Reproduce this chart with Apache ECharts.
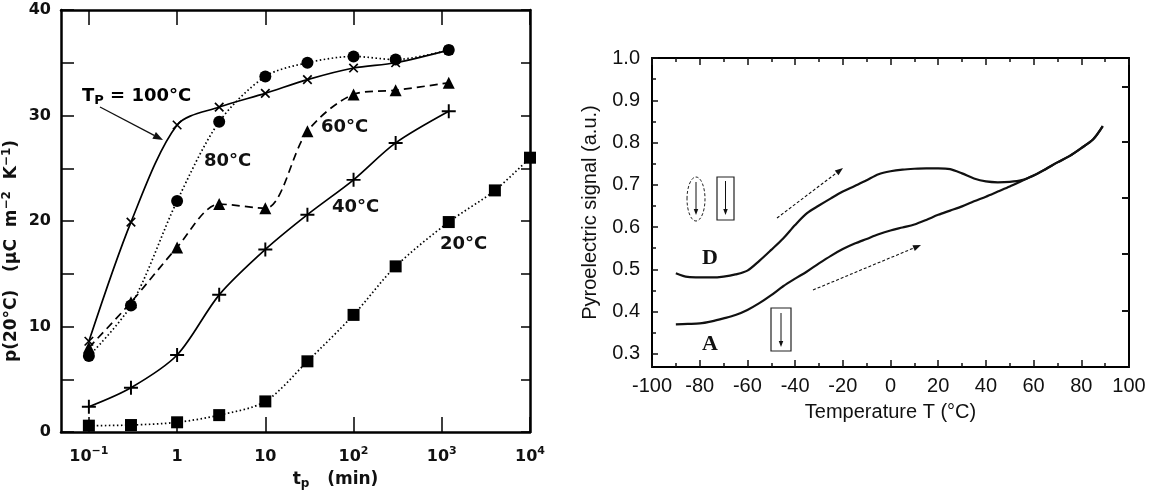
<!DOCTYPE html>
<html>
<head>
<meta charset="utf-8">
<script src="https://cdn.jsdelivr.net/npm/echarts@6.0.0/dist/echarts.min.js"></script>
<style>
html, body { margin: 0; padding: 0; background: #fff; }
#main { width: 1158px; height: 495px; }
</style>
</head>
<body>
<div id="main"></div>
<script>
// left panel: p(20°C) against poling time t_p, one curve per poling temperature
var tpTimes = [0.1, 0.3, 1, 3, 10, 30, 100, 300, 1200];
var p100 = [8.6, 19.9, 29.1, 30.8, 32.1, 33.4, 34.5, 35.0, 36.2];
var p80 = [7.2, 12.0, 21.9, 29.4, 33.7, 35.0, 35.6, 35.3, 36.2];
var p60 = [8.0, 12.3, 17.5, 21.6, 21.2, 28.5, 32.0, 32.4, 33.1];
var p40 = [2.4, 4.2, 7.3, 13.0, 17.3, 20.6, 23.9, 27.4, 30.4];
var tp20Times = [0.1, 0.3, 1, 3, 10, 30, 100, 300, 1200, 4000, 10000];
var p20 = [0.6, 0.66, 0.92, 1.6, 2.9, 6.7, 11.1, 15.7, 19.9, 22.9, 26.0];
var decades = [-1, 0, 1, 2, 3, 4]; // log10(t_p) tick positions

// right panel: pyroelectric signal against temperature
var temps = [-90, -85, -80, -75, -70, -65, -60, -55, -50, -45, -40, -35, -30, -25, -20, -15, -10, -5,
  0, 5, 10, 15, 20, 25, 30, 35, 40, 45, 50, 55, 60, 65, 70, 75, 80, 85, 89];
var sigD = [0.491, 0.482, 0.481, 0.481, 0.483, 0.488, 0.497, 0.520, 0.546, 0.573, 0.605, 0.633, 0.651, 0.668, 0.684, 0.697, 0.711, 0.725,
  0.732, 0.736, 0.738, 0.739, 0.739, 0.737, 0.727, 0.715, 0.708, 0.706, 0.707, 0.711, 0.722, 0.737, 0.753, 0.768, 0.787, 0.808, 0.839];
var sigA = [0.370, 0.371, 0.372, 0.377, 0.384, 0.392, 0.404, 0.420, 0.439, 0.460, 0.478, 0.495, 0.514, 0.532, 0.548, 0.561, 0.572, 0.583,
  0.592, 0.599, 0.606, 0.617, 0.629, 0.639, 0.649, 0.661, 0.672, 0.684, 0.696, 0.709, 0.722, 0.737, 0.753, 0.768, 0.787, 0.808, 0.839];
var yTicksR = [0.3, 0.4, 0.5, 0.6, 0.7, 0.8, 0.9, 1.0];
var yMinorR = [0.35, 0.45, 0.55, 0.65, 0.75, 0.85, 0.95];
var yTicksRightSide = [0.403, 0.536, 0.669, 0.801, 0.933];

var chart = echarts.init(document.getElementById('main'));

var monoFont = 'DejaVu Sans';
var sansFont = 'Liberation Sans';

function logPairs(ts, vs) {
  return ts.map(function (t, i) { return [Math.log10(t), vs[i]]; });
}
function pairs(xs, vs) {
  return xs.map(function (x, i) { return [x, vs[i]]; });
}

var plusPath = 'path://M4.3,0H5.7V10H4.3ZM0,4.3H10V5.7H0Z';

function leftSeries(name, data, symbol, size, lineType, rotate) {
  return {
    name: name,
    type: 'line',
    xAxisIndex: 0,
    yAxisIndex: 0,
    data: data,
    smooth: 0.3,
    symbol: symbol,
    symbolSize: size,
    symbolRotate: rotate || 0,
    showAllSymbol: true,
    lineStyle: { color: '#000', width: 1.7, type: lineType },
    itemStyle: { color: '#000' },
    z: 3
  };
}

function arrow(x1, y1, x2, y2, dash, w, head) {
  var a = Math.atan2(y2 - y1, x2 - x1);
  var bx = x2 - head * Math.cos(a), by = y2 - head * Math.sin(a);
  var nx = -Math.sin(a) * head * 0.38, ny = Math.cos(a) * head * 0.38;
  return [
    { type: 'line', z: 10, shape: { x1: x1, y1: y1, x2: bx, y2: by },
      style: { stroke: '#111', lineWidth: w, lineDash: dash } },
    { type: 'polygon', z: 10, shape: { points: [[x2, y2], [bx + nx, by + ny], [bx - nx, by - ny]] },
      style: { fill: '#111' } }
  ];
}

var leftRich = {
  n: { fontFamily: monoFont, fontWeight: 'bold', fontSize: 18, color: '#111', lineHeight: 22 },
  sub: { fontFamily: monoFont, fontWeight: 'bold', fontSize: 13, color: '#111', verticalAlign: 'bottom', lineHeight: 12 }
};

function tempLabel(x, y, text) {
  return { type: 'text', z: 10, x: x, y: y,
    style: { text: text, font: 'bold 18px "DejaVu Sans"', fill: '#111', verticalAlign: 'middle' } };
}

var graphics = [];
graphics.push({ type: 'text', z: 10, x: 82, y: 96,
  style: { text: '{n|T}{sub|P}{n| = 100°C}', rich: leftRich, verticalAlign: 'middle' } });
graphics = graphics.concat(arrow(100, 107, 163, 140, null, 1.3, 10));
graphics.push(tempLabel(204, 161, '80°C'));
graphics.push(tempLabel(321, 127, '60°C'));
graphics.push(tempLabel(332, 207, '40°C'));
graphics.push(tempLabel(440, 244, '20°C'));

// right panel annotations
graphics.push({ type: 'text', z: 10, x: 710, y: 258,
  style: { text: 'D', font: 'bold 22px "Liberation Serif"', fill: '#111', align: 'center', verticalAlign: 'middle' } });
graphics.push({ type: 'text', z: 10, x: 710, y: 344,
  style: { text: 'A', font: 'bold 22px "Liberation Serif"', fill: '#111', align: 'center', verticalAlign: 'middle' } });
graphics = graphics.concat(arrow(777, 218, 843, 168, [3, 2], 1.1, 8));
graphics = graphics.concat(arrow(813, 290, 921, 245, [3, 2], 1.1, 8));
graphics.push({ type: 'ellipse', z: 10, shape: { cx: 696, cy: 199, rx: 9, ry: 22 },
  style: { fill: 'none', stroke: '#222', lineWidth: 1, lineDash: [3, 2] } });
graphics = graphics.concat(arrow(696, 182, 696, 215, null, 1, 6));
graphics.push({ type: 'rect', z: 10, shape: { x: 717, y: 177, width: 17, height: 43 },
  style: { fill: 'none', stroke: '#222', lineWidth: 1.2 } });
graphics = graphics.concat(arrow(725.5, 181, 725.5, 215, null, 1, 6));
graphics.push({ type: 'rect', z: 10, shape: { x: 771, y: 308, width: 20, height: 43 },
  style: { fill: 'none', stroke: '#222', lineWidth: 1.2 } });
graphics = graphics.concat(arrow(781, 313, 781, 347, null, 1, 6));

var axisTxt = { fontFamily: monoFont, fontWeight: 'bold', fontSize: 16, color: '#111' };
var supRich = {
  b: { fontFamily: monoFont, fontWeight: 'bold', fontSize: 16, color: '#111', lineHeight: 22 },
  s: { fontFamily: monoFont, fontWeight: 'bold', fontSize: 11, color: '#111', verticalAlign: 'top', lineHeight: 12 }
};

function lineL(w) { return { onZero: false, lineStyle: { color: '#000', width: w } }; }

var option = {
  backgroundColor: '#fff',
  animation: false,
  grid: [
    { left: 60, top: 10, width: 470, height: 423 },
    { left: 652, top: 58, width: 477, height: 309 }
  ],
  xAxis: [
    {
      type: 'value', gridIndex: 0, position: 'bottom', min: -1.316, max: 4,
      axisLine: lineL(2.5),
      axisTick: { inside: true, length: 15, customValues: decades, lineStyle: { color: '#000', width: 1.5 } },
      axisLabel: {
        customValues: decades, margin: 14,
        formatter: function (v) {
          if (v === 0) return '{b|1}';
          if (v === 1) return '{b|10}';
          return '{b|10}{s|' + (v < 0 ? '−' + (-v) : v) + '}';
        },
        rich: supRich
      },
      splitLine: { show: false },
      name: '{b|t}{p|p}{b|   (min)}',
      nameLocation: 'middle', nameGap: 38,
      nameTextStyle: {
        padding: [0, 0, 0, 80],
        rich: {
          b: { fontFamily: monoFont, fontWeight: 'bold', fontSize: 17, color: '#111', lineHeight: 20 },
          p: { fontFamily: monoFont, fontWeight: 'bold', fontSize: 12, color: '#111', verticalAlign: 'bottom', lineHeight: 12 }
        }
      }
    },
    {
      type: 'value', gridIndex: 0, position: 'top', min: -1.316, max: 4,
      axisLine: lineL(2.5),
      axisTick: { inside: true, length: 15, customValues: decades, lineStyle: { color: '#000', width: 1.5 } },
      axisLabel: { show: false },
      splitLine: { show: false }
    },
    {
      type: 'value', gridIndex: 1, position: 'bottom', min: -100, max: 100, interval: 20,
      axisLine: lineL(2),
      axisTick: { inside: true, length: 7, lineStyle: { color: '#111', width: 1.5 } },
      minorTick: { show: true, splitNumber: 2, length: 4, lineStyle: { color: '#111', width: 1.5 } },
      axisLabel: { fontFamily: sansFont, fontSize: 20, color: '#111', margin: 9 },
      splitLine: { show: false },
      name: 'Temperature T (°C)', nameLocation: 'middle', nameGap: 35,
      nameTextStyle: { fontFamily: sansFont, fontSize: 20, color: '#111' }
    },
    {
      type: 'value', gridIndex: 1, position: 'top', min: -100, max: 100, interval: 20,
      axisLine: lineL(2),
      axisTick: { inside: true, length: 7, lineStyle: { color: '#111', width: 1.5 } },
      minorTick: { show: true, splitNumber: 2, length: 4, lineStyle: { color: '#111', width: 1.5 } },
      axisLabel: { show: false },
      splitLine: { show: false }
    }
  ],
  yAxis: [
    {
      type: 'value', gridIndex: 0, position: 'left', min: 0, max: 40, interval: 5,
      axisLine: lineL(2.5),
      axisTick: { inside: true, length: 13, lineStyle: { color: '#000', width: 1.5 } },
      axisLabel: Object.assign({ margin: 10, formatter: function (v) { return v % 10 === 0 ? String(v) : ''; } }, axisTxt),
      splitLine: { show: false },
      name: '{b|p(20°C)   (μC  m}{s|−2}{b|  K}{s|−1}{b|)}',
      nameLocation: 'middle', nameGap: 38, nameRotate: 90,
      nameTextStyle: {
        padding: [0, 60, 0, 0],
        rich: {
          b: { fontFamily: monoFont, fontWeight: 'bold', fontSize: 17, color: '#111', lineHeight: 22 },
          s: { fontFamily: monoFont, fontWeight: 'bold', fontSize: 12, color: '#111', verticalAlign: 'top', lineHeight: 12 }
        }
      }
    },
    {
      type: 'value', gridIndex: 0, position: 'right', min: 0, max: 40, interval: 5,
      axisLine: lineL(2.5),
      axisTick: { inside: true, length: 9, lineStyle: { color: '#000', width: 1.5 } },
      axisLabel: { show: false },
      splitLine: { show: false }
    },
    {
      type: 'value', gridIndex: 1, position: 'left', min: 0.269, max: 1.0,
      axisLine: lineL(2),
      axisTick: { inside: true, length: 6, customValues: yTicksR, lineStyle: { color: '#111', width: 1.5 } },
      axisLabel: {
        customValues: yTicksR, margin: 12, padding: [0, 0, 12, 0],
        fontFamily: sansFont, fontSize: 20, color: '#111',
        formatter: function (v) { return v.toFixed(1); }
      },
      splitLine: { show: false },
      name: 'Pyroelectric signal (a.u.)', nameLocation: 'middle', nameGap: 52, nameRotate: 90,
      nameTextStyle: { fontFamily: sansFont, fontSize: 20, color: '#111' }
    },
    {
      type: 'value', gridIndex: 1, position: 'left', min: 0.269, max: 1.0,
      axisLine: { show: false, onZero: false },
      axisTick: { inside: true, length: 4, customValues: yMinorR, lineStyle: { color: '#111', width: 1.5 } },
      axisLabel: { show: false },
      splitLine: { show: false }
    },
    {
      type: 'value', gridIndex: 1, position: 'right', min: 0.269, max: 1.0,
      axisLine: lineL(2),
      axisTick: { inside: true, length: 7, customValues: yTicksRightSide, lineStyle: { color: '#111', width: 2 } },
      axisLabel: { show: false },
      splitLine: { show: false }
    }
  ],
  graphic: graphics,
  series: [
    leftSeries('100°C', logPairs(tpTimes, p100), plusPath, 12, 'solid', 45),
    leftSeries('80°C', logPairs(tpTimes, p80), 'circle', 12, [1.5, 2.5]),
    leftSeries('60°C', logPairs(tpTimes, p60), 'triangle', 12, [8, 5]),
    leftSeries('40°C', logPairs(tpTimes, p40), plusPath, 14, 'solid'),
    leftSeries('20°C', logPairs(tp20Times, p20), 'rect', 12, [1.5, 2.5]),
    {
      name: 'D', type: 'line', xAxisIndex: 2, yAxisIndex: 2,
      data: pairs(temps, sigD), smooth: 0.3, showSymbol: false,
      lineStyle: { color: '#111', width: 2.2 }
    },
    {
      name: 'A', type: 'line', xAxisIndex: 2, yAxisIndex: 2,
      data: pairs(temps, sigA), smooth: 0.3, showSymbol: false,
      lineStyle: { color: '#111', width: 2.2 }
    }
  ]
};

chart.setOption(option);
</script>
</body>
</html>
